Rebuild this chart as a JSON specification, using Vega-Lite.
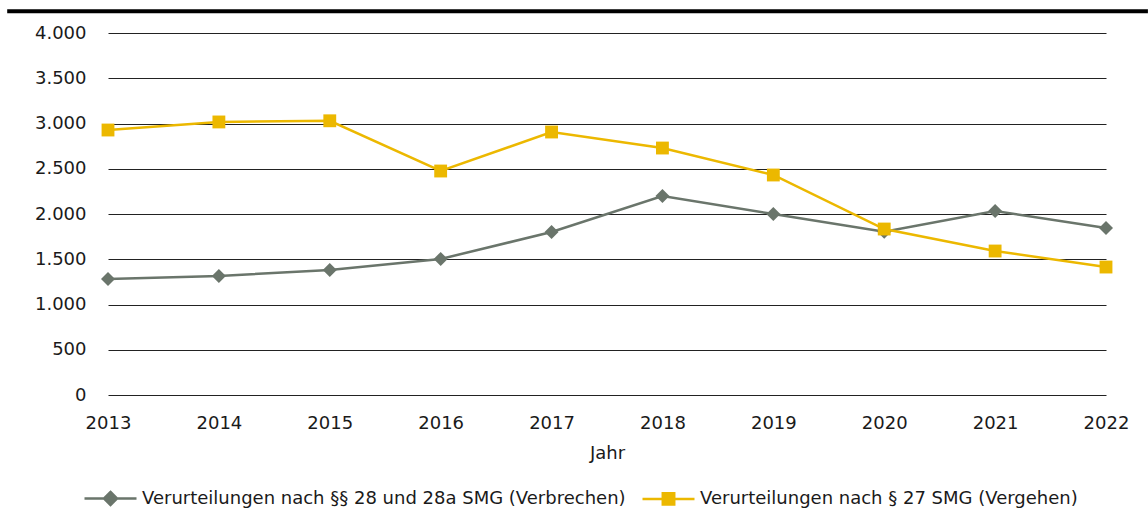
{
  "$schema": "https://vega.github.io/schema/vega-lite/v6.json",
  "autosize": {"type": "none"},
  "width": 998,
  "height": 362,
  "padding": {"left": 108, "top": 33, "right": 42, "bottom": 118},
  "background": "white",
  "config": {
    "view": {"stroke": null},
    "font": "DejaVu Sans",
    "axis": {"labelFont": "DejaVu Sans", "titleFont": "DejaVu Sans", "labelColor": "#1a1a1a", "titleColor": "#1a1a1a"}
  },
  "data": {
    "values": [
      {"Jahr": "2013", "Serie": "Verurteilungen nach §§ 28 und 28a SMG (Verbrechen)", "Wert": 1282},
      {"Jahr": "2014", "Serie": "Verurteilungen nach §§ 28 und 28a SMG (Verbrechen)", "Wert": 1315},
      {"Jahr": "2015", "Serie": "Verurteilungen nach §§ 28 und 28a SMG (Verbrechen)", "Wert": 1381},
      {"Jahr": "2016", "Serie": "Verurteilungen nach §§ 28 und 28a SMG (Verbrechen)", "Wert": 1503},
      {"Jahr": "2017", "Serie": "Verurteilungen nach §§ 28 und 28a SMG (Verbrechen)", "Wert": 1801},
      {"Jahr": "2018", "Serie": "Verurteilungen nach §§ 28 und 28a SMG (Verbrechen)", "Wert": 2199},
      {"Jahr": "2019", "Serie": "Verurteilungen nach §§ 28 und 28a SMG (Verbrechen)", "Wert": 2000},
      {"Jahr": "2020", "Serie": "Verurteilungen nach §§ 28 und 28a SMG (Verbrechen)", "Wert": 1805},
      {"Jahr": "2021", "Serie": "Verurteilungen nach §§ 28 und 28a SMG (Verbrechen)", "Wert": 2033},
      {"Jahr": "2022", "Serie": "Verurteilungen nach §§ 28 und 28a SMG (Verbrechen)", "Wert": 1845},
      {"Jahr": "2013", "Serie": "Verurteilungen nach § 27 SMG (Vergehen)", "Wert": 2928},
      {"Jahr": "2014", "Serie": "Verurteilungen nach § 27 SMG (Vergehen)", "Wert": 3017},
      {"Jahr": "2015", "Serie": "Verurteilungen nach § 27 SMG (Vergehen)", "Wert": 3030},
      {"Jahr": "2016", "Serie": "Verurteilungen nach § 27 SMG (Vergehen)", "Wert": 2475},
      {"Jahr": "2017", "Serie": "Verurteilungen nach § 27 SMG (Vergehen)", "Wert": 2906},
      {"Jahr": "2018", "Serie": "Verurteilungen nach § 27 SMG (Vergehen)", "Wert": 2729},
      {"Jahr": "2019", "Serie": "Verurteilungen nach § 27 SMG (Vergehen)", "Wert": 2431},
      {"Jahr": "2020", "Serie": "Verurteilungen nach § 27 SMG (Vergehen)", "Wert": 1834},
      {"Jahr": "2021", "Serie": "Verurteilungen nach § 27 SMG (Vergehen)", "Wert": 1591},
      {"Jahr": "2022", "Serie": "Verurteilungen nach § 27 SMG (Vergehen)", "Wert": 1414}
    ]
  },
  "resolve": {"scale": {"x": "independent"}, "axis": {"x": "independent"}},
  "layer": [
    {
      "data": {"values": [{"top": 4240, "von": -0.101, "bis": 1.042}]},
      "mark": {"type": "rule", "color": "black", "strokeWidth": 4},
      "encoding": {
        "y": {"field": "top", "type": "quantitative"},
        "x": {"field": "von", "type": "quantitative", "scale": {"domain": [0, 1], "nice": false, "zero": false}, "axis": null},
        "x2": {"field": "bis"}
      }
    },
    {
      "layer": [
        {
          "mark": {"type": "line", "strokeWidth": 2.5},
          "encoding": {
            "x": {
              "field": "Jahr", "type": "ordinal",
              "scale": {"type": "point", "padding": 0},
              "axis": {"labelAngle": 0, "ticks": false, "domain": false, "grid": false, "labelFontSize": 18, "labelPadding": 19, "title": "Jahr", "titleFontSize": 18, "titleFontWeight": "normal", "titlePadding": 12}
            },
            "y": {
              "field": "Wert", "type": "quantitative",
              "scale": {"domain": [0, 4000], "nice": false, "zero": true},
              "axis": {"values": [0, 500, 1000, 1500, 2000, 2500, 3000, 3500, 4000], "ticks": false, "domain": false, "gridColor": "#222222", "gridWidth": 1.2, "gridOpacity": 1, "labelFontSize": 18, "labelPadding": 22, "title": null, "labelExpr": "replace(format(datum.value, ','), ',', '.')"}
            },
            "color": {
              "field": "Serie", "type": "nominal",
              "scale": {"domain": ["Verurteilungen nach §§ 28 und 28a SMG (Verbrechen)", "Verurteilungen nach § 27 SMG (Vergehen)"], "range": ["#6a756b", "#ecb800"]},
              "legend": {
                "orient": "none", "legendX": -25, "legendY": 438, "direction": "horizontal", "title": null,
                "labelFontSize": 18, "labelFont": "DejaVu Sans", "labelColor": "#1a1a1a", "labelLimit": 700, "labelOffset": 4,
                "symbolSize": 2704, "symbolStrokeWidth": 2.5, "columnPadding": 11,
                "encode": {
                  "symbols": {
                    "update": {
                      "shape": {"signal": "datum.value == 'Verurteilungen nach § 27 SMG (Vergehen)' ? 'M-1,0L1,0M-0.22,-0.22L0.22,-0.22L0.22,0.22L-0.22,0.22Z' : 'M-1,0L1,0M0,-0.25L0.25,0L0,0.25L-0.25,0Z'"},
                      "fill": {"signal": "datum.value == 'Verurteilungen nach § 27 SMG (Vergehen)' ? '#ecb800' : '#6a756b'"},
                      "stroke": {"signal": "datum.value == 'Verurteilungen nach § 27 SMG (Vergehen)' ? '#ecb800' : '#6a756b'"},
                      "strokeWidth": {"value": 2.5},
                      "size": {"value": 2704},
                      "opacity": {"value": 1},
                      "fillOpacity": {"value": 1}
                    }
                  }
                }
              }
            }
          }
        },
        {
          "transform": [{"filter": "datum.Serie == 'Verurteilungen nach §§ 28 und 28a SMG (Verbrechen)'"}],
          "mark": {"type": "point", "filled": true, "opacity": 1, "shape": "diamond", "size": 196, "color": "#6a756b"},
          "encoding": {
            "x": {"field": "Jahr", "type": "ordinal"},
            "y": {"field": "Wert", "type": "quantitative"}
          }
        },
        {
          "transform": [{"filter": "datum.Serie == 'Verurteilungen nach § 27 SMG (Vergehen)'"}],
          "mark": {"type": "point", "filled": true, "opacity": 1, "shape": "square", "size": 165, "color": "#ecb800"},
          "encoding": {
            "x": {"field": "Jahr", "type": "ordinal"},
            "y": {"field": "Wert", "type": "quantitative"}
          }
        }
      ]
    }
  ]
}
